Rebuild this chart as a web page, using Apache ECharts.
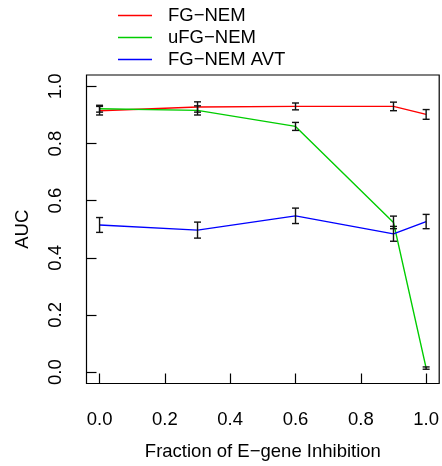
<!DOCTYPE html>
<html>
<head>
<meta charset="utf-8">
<script src="https://cdn.jsdelivr.net/npm/echarts@6/dist/echarts.min.js"></script>
<style>html,body{margin:0;padding:0;background:#fff}#c{width:442px;height:466px}</style>
</head>
<body>
<div id="c"></div>
<script>
var fractions = [0.0, 0.3, 0.6, 0.9, 1.0];
var fgNem = [0.915, 0.928, 0.930, 0.930, 0.902];
var fgNemErr = [0.015, 0.018, 0.012, 0.015, 0.017];
var ufgNem = [0.922, 0.916, 0.860, 0.524, 0.014];
var ufgNemErr = [0.012, 0.016, 0.014, 0.022, 0.004];
var fgNemAvt = [0.515, 0.497, 0.547, 0.484, 0.527];
var fgNemAvtErr = [0.026, 0.028, 0.027, 0.026, 0.025];
var tickValues = [0, 0.2, 0.4, 0.6, 0.8, 1.0];
var seriesNames = ['FG\u2212NEM', 'uFG\u2212NEM', 'FG\u2212NEM AVT'];
var seriesColors = ['#FF0000', '#00CD00', '#0000FF'];

var FONT = 'Liberation Sans, Arial, Helvetica, sans-serif';
var FS = 18.5;
function pts(vals) { return fractions.map(function (x, i) { return [x, vals[i]]; }); }
function errs(vals, e) { return fractions.map(function (x, i) { return [x, vals[i] - e[i], vals[i] + e[i]]; }); }

function errRender(params, api) {
  var x = api.value(0), lo = api.value(1), hi = api.value(2);
  var p1 = api.coord([x, lo]), p2 = api.coord([x, hi]);
  var w = 3.5;
  var st = { stroke: '#111', lineWidth: 1.4 };
  return { type: 'group', children: [
    { type: 'line', shape: { x1: p1[0], y1: p1[1], x2: p2[0], y2: p2[1] }, style: st },
    { type: 'line', shape: { x1: p1[0] - w, y1: p1[1], x2: p1[0] + w, y2: p1[1] }, style: st },
    { type: 'line', shape: { x1: p2[0] - w, y1: p2[1], x2: p2[0] + w, y2: p2[1] }, style: st }
  ]};
}

var lineVals = [fgNem, ufgNem, fgNemAvt];
var errVals = [fgNemErr, ufgNemErr, fgNemAvtErr];
var series = [];
for (var i = 0; i < 3; i++) {
  series.push({ type: 'line', name: seriesNames[i], data: pts(lineVals[i]), symbol: 'none',
    lineStyle: { color: seriesColors[i], width: 1.4 }, itemStyle: { color: seriesColors[i] }, z: 2, silent: true, animation: false });
}
for (var j = 0; j < 3; j++) {
  series.push({ type: 'custom', name: 'err' + j, data: errs(lineVals[j], errVals[j]), renderItem: errRender,
    encode: { x: 0, y: [1, 2] }, z: 3, silent: true, animation: false });
}

var chart = echarts.init(document.getElementById('c'), null, { renderer: 'canvas' });
chart.setOption({
  backgroundColor: '#fff',
  animation: false,
  grid: { left: 86.5, right: 2, top: 75, bottom: 82, show: true, borderColor: '#000', borderWidth: 1.2, backgroundColor: 'transparent' },
  legend: {
    data: seriesNames.map(function (n) { return { name: n, icon: 'rect' }; }),
    orient: 'vertical', left: 113, top: 1, itemWidth: 34, itemHeight: 1.4, itemGap: 3,
    textStyle: { fontFamily: FONT, fontSize: FS, color: '#000', padding: [0, 0, 0, 11] }
  },
  xAxis: {
    type: 'value', min: -0.04, max: 1.04,
    name: 'Fraction of E\u2212gene Inhibition', nameLocation: 'middle', nameGap: 58.5,
    nameTextStyle: { fontFamily: FONT, fontSize: FS, color: '#000' },
    axisLine: { show: false, onZero: false }, splitLine: { show: false },
    axisTick: { show: true, inside: true, length: 10, lineStyle: { color: '#000', width: 1.2 }, customValues: tickValues },
    axisLabel: { fontFamily: FONT, fontSize: FS, color: '#000', margin: 27, customValues: tickValues,
      formatter: function (v) { return v.toFixed(1); } }
  },
  yAxis: {
    type: 'value', min: -0.04, max: 1.04,
    name: 'AUC', nameLocation: 'middle', nameGap: 54.5, nameRotate: 90,
    nameTextStyle: { fontFamily: FONT, fontSize: FS, color: '#000' },
    axisLine: { show: false, onZero: false }, splitLine: { show: false },
    axisTick: { show: true, inside: true, length: 10, lineStyle: { color: '#000', width: 1.2 }, customValues: tickValues },
    axisLabel: { fontFamily: FONT, fontSize: FS, color: '#000', margin: 21, rotate: 90, customValues: tickValues,
      formatter: function (v) { return v.toFixed(1); } }
  },
  series: series
});
</script>
</body>
</html>
